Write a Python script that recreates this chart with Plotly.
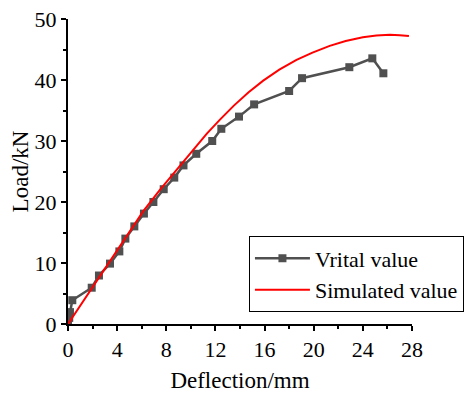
import plotly.graph_objects as go

# Experimental ("Vrital value") data
exp_x = [0.0, 0.1, 0.16, 0.35, 1.93, 2.52, 3.42, 4.18, 4.67, 5.4, 6.18, 6.95, 7.79,
         8.65, 9.4, 10.44, 11.74, 12.48, 13.92, 15.15, 18.0, 19.05, 22.9, 24.77, 25.67]
exp_y = [0.0, 1.0, 1.95, 3.9, 5.95, 7.95, 9.9, 11.9, 14.0, 16.0, 18.1, 20.0, 22.1,
         24.0, 26.0, 27.9, 30.0, 32.0, 34.0, 36.0, 38.2, 40.3, 42.1, 43.55, 41.1]

# Simulated curve
sim_x = [0.0, 1.0, 1.93, 3.0, 4.0, 5.05, 6.13, 7.48, 8.83, 10.19, 11.3, 12.37, 13.5,
         14.7, 15.89, 17.2, 18.6, 19.9, 21.3, 22.6, 24.0, 25.1, 26.2, 27.0, 27.75]
sim_y = [0.0, 3.0, 5.8, 9.0, 12.1, 15.35, 18.5, 22.0, 25.3, 28.5, 31.2, 33.5, 35.8,
         38.0, 39.9, 41.7, 43.3, 44.5, 45.6, 46.4, 47.0, 47.3, 47.4, 47.35, 47.2]

x_ticks = [0, 4, 8, 12, 16, 20, 24, 28]
y_ticks = [0, 10, 20, 30, 40, 50]

FONT = "Liberation Serif, Times New Roman, serif"
FS_TICK = 22
FS_TITLE = 23
FS_LEG = 22

fig = go.Figure()
fig.add_trace(go.Scatter(
    x=exp_x, y=exp_y, mode="lines+markers", name="Vrital value",
    line=dict(color="#505050", width=2.5),
    marker=dict(symbol="square", size=8, color="#505050"),
))
fig.add_trace(go.Scatter(
    x=sim_x, y=sim_y, mode="lines", name="Simulated value",
    line=dict(color="#ff0000", width=2),
))

axis_common = dict(
    showline=True, linecolor="black", linewidth=2,
    ticks="outside", ticklen=5, tickwidth=1.5, tickcolor="black",
    showgrid=False, zeroline=False, mirror=False, automargin=False,
    tickfont=dict(family=FONT, size=FS_TICK, color="black"),
)

fig.update_xaxes(
    range=[0, 28], tickvals=x_ticks, ticktext=[str(v) for v in x_ticks],
    minor=dict(ticks="outside", ticklen=3, tickwidth=1.5, tickcolor="black", dtick=2, tick0=0),
    title=dict(text="Deflection/mm", font=dict(family=FONT, size=FS_TITLE, color="black"), standoff=10),
    **axis_common,
)
fig.update_yaxes(
    range=[0, 50], tickvals=y_ticks, ticktext=[str(v) for v in y_ticks],
    minor=dict(ticks="outside", ticklen=3, tickwidth=1.5, tickcolor="black", dtick=5, tick0=0),
    title=dict(text="Load/kN", font=dict(family=FONT, size=FS_TITLE, color="black"), standoff=4),
    ticklabeloverflow="allow",
    **axis_common,
)

# page body has an 8px default margin, so the figure is 8px smaller than the window
fig.update_layout(
    width=465, height=386,
    margin=dict(l=60, r=61, t=11, b=70, autoexpand=False),
    plot_bgcolor="white", paper_bgcolor="white",
    font=dict(family=FONT, size=FS_TICK, color="black"),
    legend=dict(
        x=0.526, y=0.287, xanchor="left", yanchor="top",
        bgcolor="white", bordercolor="black", borderwidth=1,
        font=dict(family=FONT, size=FS_LEG, color="black"),
        itemwidth=55, tracegroupgap=0,
    ),
    showlegend=True,
)

fig.write_html("out.html")
